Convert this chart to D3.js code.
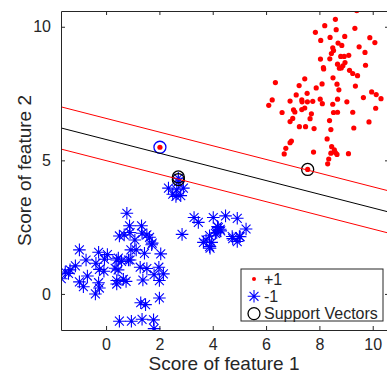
<!DOCTYPE html>
<html>
<head>
<meta charset="utf-8">
<script src="https://cdn.jsdelivr.net/npm/d3@7"></script>
<style>
  body { margin: 0; background: #fff; }
  svg text { font-family: "Liberation Sans", Arial, Helvetica, sans-serif; fill: #262626; }
</style>
</head>
<body>
<script>
(function(){

  //pseudo-global variables
  var posPoints = [ //class +1 (red dots)
    [9.40,10.60],[8.60,10.28],[8.20,10.04],[7.85,9.79],[8.63,9.89],[9.33,9.94],[8.05,9.49],[8.40,9.60],
    [8.95,9.64],[9.89,9.59],[10.08,9.41],[8.70,9.39],[8.84,9.30],[8.50,9.21],[9.49,9.25],[8.53,9.11],
    [8.45,9.00],[9.71,9.04],[8.80,8.89],[8.93,8.89],[9.10,8.93],[8.04,8.79],[8.39,8.80],[8.96,8.66],
    [8.68,8.60],[8.88,8.54],[9.73,8.56],[8.15,8.47],[8.16,8.42],[8.75,8.45],[8.82,8.46],[9.13,8.37],
    [9.25,8.25],[9.43,8.17],[8.51,8.09],[7.45,8.05],[6.35,7.91],[7.24,7.80],[8.10,7.86],[8.66,7.85],
    [7.88,7.71],[9.35,7.78],[8.73,7.64],[7.13,7.45],[7.54,7.51],[9.96,7.56],[10.13,7.46],[9.65,7.35],
    [10.31,7.31],[6.23,7.26],[6.10,7.06],[6.90,7.22],[7.34,7.26],[7.35,7.19],[7.55,7.19],[7.75,7.21],
    [8.03,7.29],[8.11,7.12],[8.68,7.29],[9.03,7.19],[8.50,7.10],[6.60,6.79],[7.03,6.89],[7.08,6.81],
    [7.34,6.90],[7.45,6.96],[7.70,6.74],[8.53,6.79],[8.68,6.80],[9.25,6.80],[10.11,6.95],[7.00,6.57],
    [7.65,6.56],[6.90,6.45],[8.38,6.49],[7.25,6.26],[7.48,6.26],[7.80,6.19],[8.43,6.15],[9.29,6.21],
    [9.86,6.44],[8.29,5.80],[6.95,5.72],[6.90,5.66],[6.74,5.45],[8.46,5.51],[8.56,5.39],[8.60,5.29],
    [8.43,5.27],[8.66,5.22],[7.78,5.31],[6.68,5.24],[9.09,5.25],[8.35,5.05],[8.31,4.87],[7.56,4.66],
    [2.02,5.49]
  ];
  var negPoints = [ //class -1 (blue asterisks)
    [0.78,3.02],[0.88,2.55],[1.33,2.55],[0.50,2.17],[0.68,2.21],[0.90,2.30],[1.35,2.27],[1.53,2.21],
    [1.63,2.12],[1.08,2.02],[1.73,1.90],[-1.00,1.65],[0.93,1.65],[1.13,1.65],[2.05,1.50],[-0.28,1.56],
    [0.05,1.47],[-0.75,1.27],[0.40,1.27],[0.58,1.22],[0.90,1.27],[-0.38,1.15],[-1.15,1.05],[1.28,1.00],
    [-0.25,0.92],[-0.08,0.85],[0.45,0.90],[1.53,0.95],[1.98,1.00],[-1.53,0.82],[-1.35,0.90],[-1.68,0.57],
    [-0.70,0.67],[0.40,0.50],[0.65,0.55],[0.75,0.47],[1.38,0.52],[1.80,0.72],[2.15,0.75],[-1.00,0.45],
    [-0.85,0.27],[-0.28,0.42],[-0.25,0.22],[0.40,0.37],[2.00,0.50],[-0.40,0.00],[2.00,-0.15],[1.30,-0.33],
    [1.48,-0.40],[0.50,-1.02],[0.95,-1.02],[1.35,-0.95],[1.78,-0.97],[1.80,-1.30],[-1.41,0.77],[0.34,0.96],
    [0.46,1.34],[0.84,1.27],[-0.06,1.30],[1.44,1.52],[1.71,1.84],
    [2.71,4.33],[2.71,4.20],[2.34,3.96],[2.65,3.90],[2.90,3.96],[2.50,3.73],[2.80,3.68],[2.62,3.65],
    [3.30,2.86],[3.46,2.68],[2.85,2.23],[4.02,2.86],[4.48,2.92],[4.92,2.83],[4.21,2.48],[4.30,2.36],
    [4.10,2.27],[4.18,2.52],[4.28,2.42],[3.88,2.18],[3.75,2.02],[3.65,1.93],[3.96,1.93],[3.88,1.77],
    [3.90,1.71],[4.73,2.15],[5.00,2.15],[5.25,2.43],[4.92,1.96],[4.15,2.30],[4.75,2.07],[5.03,2.14]
  ];
  var supportVectors = [[2.71,4.38],[2.71,4.28],[7.56,4.66]]; //black circles
  var flaggedPoints = [[2.02,5.49]]; //blue circle
  var lineSlope = -0.256; //slope of boundary and margins
  var lineIntercepts = [6.57, 5.78, 4.99]; //upper margin, boundary, lower margin
  var lineColors = ["#ff0000", "#000000", "#ff0000"];
  var xTicks = [0, 2, 4, 6, 8, 10];
  var yTicks = [0, 5, 10];
  var legendLabels = ["+1", "-1", "Support Vectors"];

  window.onload = drawChart(); //begin script when window loads

  function drawChart(){
    var width = 387, //frame dimensions
        height = 375;
    var left = 61, right = 389, top = 11, bottom = 330;

    var svg = d3.select("body")
      .append("svg")
      .attr("width", width)
      .attr("height", height);

    var x = d3.scaleLinear().domain([-1.69, 10.61]).range([left, right]);
    var y = d3.scaleLinear().domain([-1.35, 10.59]).range([bottom, top]);

    //clip everything to the axes box
    svg.append("clipPath").attr("id", "clip")
      .append("rect")
      .attr("x", left).attr("y", top)
      .attr("width", right - left).attr("height", bottom - top);

    var plot = svg.append("g").attr("clip-path", "url(#clip)");

    //red dots
    plot.selectAll(".pos")
      .data(posPoints)
      .enter()
      .append("circle")
      .attr("class", "pos")
      .attr("cx", function(d){ return x(d[0]); })
      .attr("cy", function(d){ return y(d[1]); })
      .attr("r", 2.6)
      .style("fill", "#ff0000");

    //blue asterisks
    plot.selectAll(".neg")
      .data(negPoints)
      .enter()
      .append("path")
      .attr("class", "neg")
      .attr("d", function(d){ return asterisk(x(d[0]), y(d[1]), 6.3); })
      .style("stroke", "#0000ff")
      .style("stroke-width", 1.1)
      .style("fill", "none");

    //support vector circles
    plot.selectAll(".sv")
      .data(supportVectors)
      .enter()
      .append("circle")
      .attr("class", "sv")
      .attr("cx", function(d){ return x(d[0]); })
      .attr("cy", function(d){ return y(d[1]); })
      .attr("r", 6)
      .style("fill", "none")
      .style("stroke", "#000")
      .style("stroke-width", 1.3);

    plot.selectAll(".flag")
      .data(flaggedPoints)
      .enter()
      .append("circle")
      .attr("class", "flag")
      .attr("cx", function(d){ return x(d[0]); })
      .attr("cy", function(d){ return y(d[1]); })
      .attr("r", 6)
      .style("fill", "none")
      .style("stroke", "#0000ff")
      .style("stroke-width", 1.3);

    //boundary and margin lines
    var xs = x.domain();
    plot.selectAll(".bound")
      .data(lineIntercepts)
      .enter()
      .append("line")
      .attr("class", "bound")
      .attr("x1", x(xs[0]))
      .attr("x2", x(xs[1]))
      .attr("y1", function(d){ return y(d + lineSlope * xs[0]); })
      .attr("y2", function(d){ return y(d + lineSlope * xs[1]); })
      .style("stroke", function(d, i){ return lineColors[i]; })
      .style("stroke-width", 1);

    //axes box with inward ticks
    var axisColor = "#262626";
    svg.append("g")
      .attr("transform", "translate(0," + bottom + ")")
      .call(d3.axisBottom(x).tickValues(xTicks).tickSizeInner(-4).tickSizeOuter(0).tickPadding(9))
      .call(styleAxis);
    svg.append("g")
      .attr("transform", "translate(0," + top + ")")
      .call(d3.axisTop(x).tickValues(xTicks).tickSizeInner(-4).tickSizeOuter(0).tickFormat(""))
      .call(styleAxis);
    svg.append("g")
      .attr("transform", "translate(" + left + ",0)")
      .call(d3.axisLeft(y).tickValues(yTicks).tickSizeInner(-4).tickSizeOuter(0).tickPadding(10))
      .call(styleAxis);
    svg.append("g")
      .attr("transform", "translate(" + right + ",0)")
      .call(d3.axisRight(y).tickValues(yTicks).tickSizeInner(-4).tickSizeOuter(0).tickFormat(""))
      .call(styleAxis);

    function styleAxis(g){
      g.select(".domain").style("stroke", axisColor).style("stroke-width", 1);
      g.selectAll(".tick line").style("stroke", axisColor);
      g.selectAll(".tick text")
        .style("font-size", "16px")
        .style("fill", axisColor)
        .style("font-family", "'Liberation Sans', Arial, sans-serif");
    }

    //axis labels
    svg.append("text")
      .attr("x", (left + right) / 2 - 1)
      .attr("y", 370)
      .attr("text-anchor", "middle")
      .style("font-size", "19px")
      .text("Score of feature 1");

    svg.append("text")
      .attr("transform", "translate(31," + ((top + bottom) / 2) + ") rotate(-90)")
      .attr("text-anchor", "middle")
      .style("font-size", "19px")
      .text("Score of feature 2");

    //legend
    var legend = svg.append("g").attr("transform", "translate(241,269)");
    legend.append("rect")
      .attr("width", 142)
      .attr("height", 52)
      .style("fill", "#fff")
      .style("stroke", axisColor)
      .style("stroke-width", 1);

    var items = legend.selectAll(".item")
      .data(legendLabels)
      .enter()
      .append("g")
      .attr("class", "item")
      .attr("transform", function(d, i){ return "translate(13," + (10 + i * 17.3) + ")"; });

    items.append("text")
      .attr("x", 10)
      .attr("dy", "0.35em")
      .style("font-size", "16px")
      .text(function(d){ return d; });

    items.filter(function(d, i){ return i == 0; })
      .append("circle").attr("r", 2).style("fill", "#ff0000");
    items.filter(function(d, i){ return i == 1; })
      .append("path").attr("d", asterisk(0, 0, 6.3))
      .style("stroke", "#0000ff").style("stroke-width", 1.1).style("fill", "none");
    items.filter(function(d, i){ return i == 2; })
      .append("circle").attr("r", 6)
      .style("fill", "none").style("stroke", "#000").style("stroke-width", 1.3);
  };

  //eight-armed asterisk marker path
  function asterisk(cx, cy, r){
    var k = r * Math.SQRT1_2;
    return "M" + (cx - r) + "," + cy + "L" + (cx + r) + "," + cy +
      "M" + cx + "," + (cy - r) + "L" + cx + "," + (cy + r) +
      "M" + (cx - k) + "," + (cy - k) + "L" + (cx + k) + "," + (cy + k) +
      "M" + (cx - k) + "," + (cy + k) + "L" + (cx + k) + "," + (cy - k);
  };
})();
</script>
</body>
</html>
